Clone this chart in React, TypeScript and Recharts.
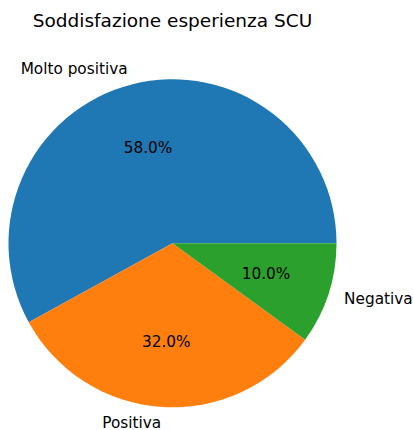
import React from "react";
import { PieChart, Pie, Cell } from "recharts";

const categories = ["Molto positiva", "Positiva", "Negativa"];
const values = [58, 32, 10];
const colors = ["#1f77b4", "#ff7f0e", "#2ca02c"];

const data = categories.map((name, i) => ({ name, value: values[i] }));

const RADIAN = Math.PI / 180;
const FONT = "DejaVu Sans, sans-serif";
const LABEL_SIZE = 15.3;

const renderLabel = (props: any) => {
  const { cx, cy, midAngle, outerRadius, percent, name, index } = props;
  const cos = Math.cos(-midAngle * RADIAN);
  const sin = Math.sin(-midAngle * RADIAN);
  const lx = cx + outerRadius * 1.1 * cos;
  const ly = cy + outerRadius * 1.1 * sin;
  const px = cx + outerRadius * 0.6 * cos;
  const py = cy + outerRadius * 0.6 * sin;
  return (
    <g key={`lbl-${index}`}>
      <text
        x={px}
        y={py}
        textAnchor="middle"
        dominantBaseline="central"
        fontSize={LABEL_SIZE}
        fontFamily={FONT}
        fill="#000"
      >
        {(percent * 100).toFixed(1)}%
      </text>
      <text
        x={lx}
        y={ly}
        textAnchor={cos >= 0 ? "start" : "end"}
        dominantBaseline="central"
        fontSize={LABEL_SIZE}
        fontFamily={FONT}
        fill="#000"
      >
        {name}
      </text>
    </g>
  );
};

const App = () => {
  return (
    <div style={{ position: "absolute", left: 0, top: 0, background: "#fff" }}>
      <PieChart width={413} height={430} margin={{ top: 0, right: 0, bottom: 0, left: 0 }}>
        <text
          x={172.5}
          y={20}
          textAnchor="middle"
          dominantBaseline="central"
          fontSize={18.5}
          fontFamily={FONT}
          fill="#000"
        >
          Soddisfazione esperienza SCU
        </text>
        <Pie
          data={data}
          dataKey="value"
          nameKey="name"
          cx={172.5}
          cy={243.3}
          outerRadius={164}
          startAngle={0}
          endAngle={360}
          stroke="none"
          labelLine={false}
          label={renderLabel}
          isAnimationActive={false}
        >
          {data.map((d, i) => (
            <Cell key={d.name} fill={colors[i]} />
          ))}
        </Pie>
      </PieChart>
    </div>
  );
};

export default App;
